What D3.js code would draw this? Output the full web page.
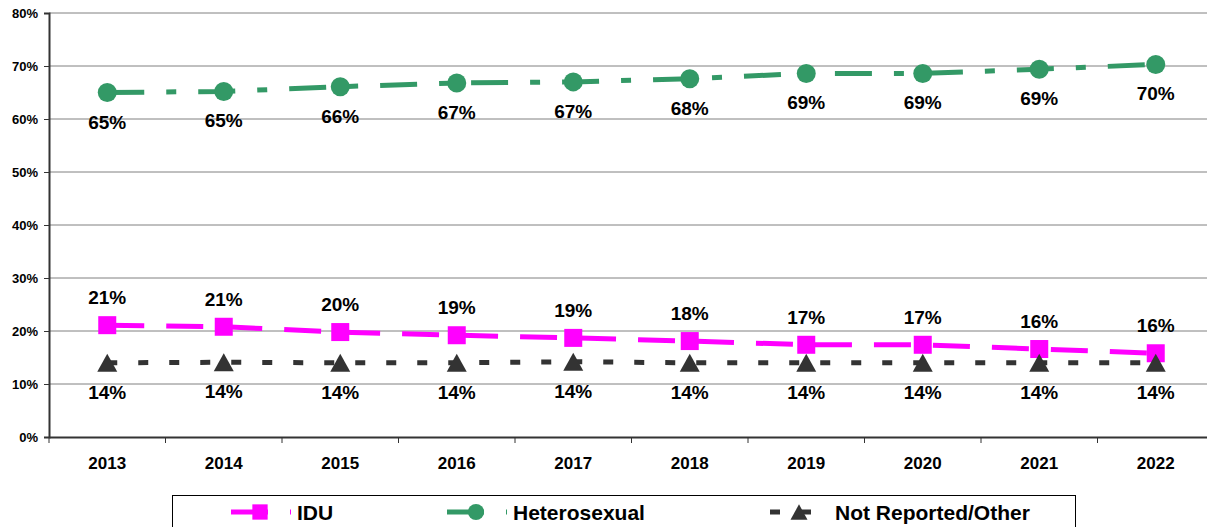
<!DOCTYPE html>
<html>
<head>
<meta charset="utf-8">
<script src="https://cdn.jsdelivr.net/npm/d3@7"></script>
<style>
  body { margin: 0; background: #fff; }
  svg { display: block; font-family: "Liberation Sans", Arial, sans-serif; font-weight: bold; }
</style>
</head>
<body>
<svg id="chart" width="1207" height="527"></svg>
<script>
// chart data
const years = ['2013', '2014', '2015', '2016', '2017', '2018', '2019', '2020', '2021', '2022']
const idu = [21.1, 20.8, 19.8, 19.2, 18.7, 18.1, 17.4, 17.4, 16.6, 15.8]
const iduLabels = ['21%', '21%', '20%', '19%', '19%', '18%', '17%', '17%', '16%', '16%']
const hetero = [65.0, 65.2, 66.1, 66.8, 67.0, 67.6, 68.6, 68.6, 69.4, 70.3]
const heteroLabels = ['65%', '65%', '66%', '67%', '67%', '68%', '69%', '69%', '69%', '70%']
const other = [14.0, 14.1, 14.0, 14.0, 14.2, 14.0, 14.0, 14.0, 14.0, 14.0]
const otherLabels = ['14%', '14%', '14%', '14%', '14%', '14%', '14%', '14%', '14%', '14%']
const yTicks = [0, 10, 20, 30, 40, 50, 60, 70, 80]

const svg = d3.select('#chart')

let x = d3.scaleBand().domain(years).range([49, 1214])
let y = d3.scaleLinear().domain([0, 80]).range([437, 13])
let cx = d => x(d) + x.bandwidth() / 2

// gridlines
svg.append('g')
  .selectAll('line')
  .data(yTicks.slice(1))
  .join('line')
  .attr('x1', 49).attr('x2', 1207)
  .attr('y1', d => y(d)).attr('y2', d => y(d))
  .attr('stroke', '#808080')
  .attr('stroke-width', 1)

// y axis
let yAxis = svg.append('g')
  .attr('transform', 'translate(49,0)')
  .call(d3.axisLeft(y).tickValues(yTicks).tickSize(5).tickPadding(6).tickFormat(d => d + '%'))
yAxis.select('.domain').attr('stroke', '#333').attr('stroke-width', 2)
yAxis.selectAll('line').attr('stroke', '#333')
yAxis.selectAll('text').attr('font-size', 13).attr('font-weight', 'bold').attr('font-family', 'Liberation Sans, Arial').attr('fill', '#000')

// x axis
let xAxis = svg.append('g')
  .attr('transform', 'translate(0,437)')
  .call(d3.axisBottom(x).tickSize(0).tickPadding(20))
xAxis.select('.domain').attr('stroke', '#333').attr('stroke-width', 2)
xAxis.selectAll('text').attr('font-size', 17).attr('font-weight', 'bold').attr('font-family', 'Liberation Sans, Arial').attr('fill', '#000')
// tick marks on category boundaries
xAxis.append('g')
  .selectAll('line')
  .data(years)
  .join('line')
  .attr('x1', d => x(d)).attr('x2', d => x(d))
  .attr('y1', 0).attr('y2', 6)
  .attr('stroke', '#333')

const series = [
  { name: 'IDU', values: idu, labels: iduLabels, color: '#ff00ff', dash: '37,22', marker: 'square', dy: -21 },
  { name: 'Heterosexual', values: hetero, labels: heteroLabels, color: '#339966', dash: '37,22,10,22', marker: 'circle', dy: 36 },
  { name: 'Not Reported/Other', values: other, labels: otherLabels, color: '#333333', dash: '10,21', marker: 'triangle', dy: 36 }
]

let line = d3.line().x(d => cx(d.year)).y(d => y(d.v))

function drawMarker(g, type, px, py, color, s = 1) {
  if (type === 'square') {
    g.append('rect').attr('x', px - 9 * s).attr('y', py - 9 * s).attr('width', 18 * s).attr('height', 18 * s).attr('fill', color)
  } else if (type === 'circle') {
    g.append('circle').attr('cx', px).attr('cy', py).attr('r', 9.5 * s).attr('fill', color)
  } else {
    g.append('path')
      .attr('d', `M${px},${py - 9 * s} L${px + 10 * s},${py + 9 * s} L${px - 10 * s},${py + 9 * s} Z`)
      .attr('fill', color)
  }
}

series.forEach(s => {
  let pts = years.map((yr, i) => ({ year: yr, v: s.values[i] }))
  let g = svg.append('g')
  g.append('path')
    .datum(pts)
    .attr('d', line)
    .attr('fill', 'none')
    .attr('stroke', s.color)
    .attr('stroke-width', 5)
    .attr('stroke-dasharray', s.dash)
  pts.forEach(p => drawMarker(g, s.marker, cx(p.year), y(p.v), s.color))
  g.selectAll('text')
    .data(pts)
    .join('text')
    .attr('x', d => cx(d.year))
    .attr('y', d => y(d.v) + s.dy)
    .attr('text-anchor', 'middle')
    .attr('font-size', 19)
    .attr('fill', '#000')
    .text((d, i) => s.labels[i])
})

// legend
let legend = svg.append('g')
legend.append('rect')
  .attr('x', 172.5).attr('y', 495.5).attr('width', 903).attr('height', 40)
  .attr('fill', '#fff').attr('stroke', '#000').attr('stroke-width', 1)

let legendX = [231, 447, 770]
let textX = [297, 513, 835]
series.forEach((s, i) => {
  let lx = legendX[i]
  let ly = 512
  let lg = legend.append('g')
  lg.append('line')
    .attr('x1', lx).attr('x2', lx + 60)
    .attr('y1', ly).attr('y2', ly)
    .attr('stroke', s.color)
    .attr('stroke-width', 5)
    .attr('stroke-dasharray', s.dash)
  drawMarker(lg, s.marker, lx + 29, ly, s.color, 0.85)
  lg.append('text')
    .attr('x', textX[i])
    .attr('y', ly + 8)
    .attr('font-size', 21)
    .attr('fill', '#000')
    .text(s.name)
})
</script>
</body>
</html>
